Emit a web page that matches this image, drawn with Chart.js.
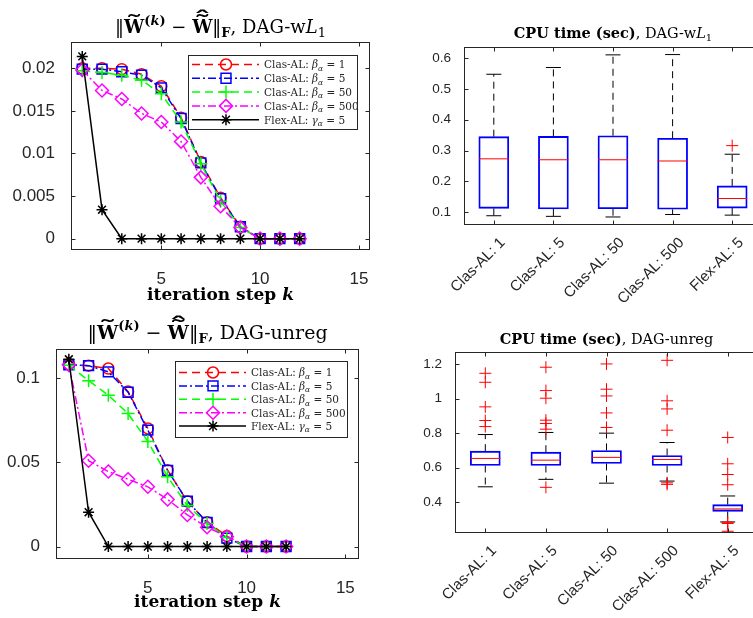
<!DOCTYPE html>
<html>
<head>
<meta charset="utf-8">
<script src="https://cdn.jsdelivr.net/npm/chart.js@4.4.1/dist/chart.umd.min.js"></script>
<style>
  html, body { margin: 0; padding: 0; background: #fff; }
  body { width: 753px; height: 618px; overflow: hidden; position: relative; }
  canvas { position: absolute; }
</style>
</head>
<body>
<canvas id="convWL1" width="380" height="310" style="left:0;top:0"></canvas>
<canvas id="cpuWL1" width="400" height="310" style="left:380px;top:0"></canvas>
<canvas id="convUnreg" width="380" height="308" style="left:0;top:310px"></canvas>
<canvas id="cpuUnreg" width="400" height="308" style="left:380px;top:310px"></canvas>
<script>
// iteration steps k
const iterSteps = [1, 2, 3, 4, 5, 6, 7, 8, 9, 10, 11, 12];
const kTicks = [5, 10, 15];

// ||W(k) - W||_F , DAG-wL1
const wl1Beta1   = [0.0200, 0.0200, 0.0199, 0.0193, 0.0179, 0.0142, 0.0090, 0.0048, 0.0014, 0, 0, 0];
const wl1Beta5   = [0.0199, 0.0199, 0.0196, 0.0192, 0.0177, 0.0141, 0.0089, 0.0047, 0.0014, 0, 0, 0];
const wl1Beta50  = [0.0197, 0.0195, 0.0192, 0.0186, 0.0170, 0.0137, 0.0088, 0.0044, 0.0013, 0, 0, 0];
const wl1Beta500 = [0.0198, 0.0174, 0.0164, 0.0147, 0.0137, 0.0114, 0.0072, 0.0038, 0.0013, 0, 0, 0];
const wl1Flex    = [0.0214, 0.0034, 0, 0, 0, 0, 0, 0, 0, 0, 0, 0];
const wl1YTicks  = [0, 0.005, 0.01, 0.015, 0.02];

// ||W(k) - W||_F , DAG-unreg
const unBeta1   = [0.1083, 0.1075, 0.1058, 0.0921, 0.0702, 0.0454, 0.0268, 0.0145, 0.0062, 0, 0, 0];
const unBeta5   = [0.1080, 0.1075, 0.1038, 0.0917, 0.0692, 0.0452, 0.0270, 0.0143, 0.0050, 0, 0, 0];
const unBeta50  = [0.1078, 0.0986, 0.0899, 0.0790, 0.0625, 0.0415, 0.0244, 0.0137, 0.0054, 0, 0, 0];
const unBeta500 = [0.1080, 0.0510, 0.0446, 0.0400, 0.0355, 0.0280, 0.0188, 0.0115, 0.0060, 0, 0, 0];
const unFlex    = [0.1113, 0.0204, 0, 0, 0, 0, 0, 0, 0, 0, 0, 0];
const unYTicks  = [0, 0.05, 0.1];

// legend entries
const seriesMethod = ['Clas-AL', 'Clas-AL', 'Clas-AL', 'Clas-AL', 'Flex-AL'];
const seriesParam  = ['\u03b2', '\u03b2', '\u03b2', '\u03b2', '\u03b3'];
const seriesValue  = ['1', '5', '50', '500', '5'];

// CPU time box plots
const boxLabels = ['Clas-AL: 1', 'Clas-AL: 5', 'Clas-AL: 50', 'Clas-AL: 500', 'Flex-AL: 5'];

const cpuWL1Min = [0.088, 0.086, 0.084, 0.092, 0.090];
const cpuWL1Q1  = [0.112, 0.110, 0.111, 0.109, 0.113];
const cpuWL1Med = [0.273, 0.270, 0.270, 0.266, 0.144];
const cpuWL1Q3  = [0.345, 0.346, 0.348, 0.340, 0.185];
const cpuWL1Max = [0.548, 0.570, 0.611, 0.612, 0.288];
const cpuWL1Out = [[], [], [], [], [0.316]];
const cpuWL1YTicks = [0.1, 0.2, 0.3, 0.4, 0.5, 0.6];

const cpuUnMin = [0.490, 0.533, 0.511, 0.523, 0.287];
const cpuUnQ1  = [0.613, 0.613, 0.625, 0.613, 0.348];
const cpuUnMed = [0.654, 0.644, 0.660, 0.648, 0.362];
const cpuUnQ3  = [0.696, 0.690, 0.700, 0.671, 0.387];
const cpuUnMax = [0.792, 0.804, 0.800, 0.746, 0.437];
const cpuUnOut = [
    [1.146, 1.094, 0.952, 0.873, 0.838],
    [1.181, 1.046, 1.002, 0.875, 0.856, 0.823, 0.487],
    [1.200, 1.054, 1.015, 0.917, 0.833],
    [1.221, 0.987, 0.940, 0.817, 0.513, 0.504],
    [0.775, 0.623, 0.561, 0.502, 0.285, 0.278, 0.233]
];
const cpuUnYTicks = [0.4, 0.6, 0.8, 1, 1.2];

//==

const SERIF = '"DejaVu Serif", "Liberation Serif", serif';
const SANS = '"Liberation Sans", Arial, sans-serif';
const AXIS_COLOR = '#262626';

function font(size, style) {
    return (style || 'normal') + ' ' + size + 'px ' + SERIF;
}

// draw a list of text runs (different fonts / raised or lowered) on one line,
// a run may carry accents (wide tilde, hat) stretched over its width
function drawRuns(ctx, runs, x, y, align) {
    const widths = runs.map(r => { ctx.font = r.font; return ctx.measureText(r.t).width; });
    const total = widths.reduce((a, b) => a + b, 0);
    let cx = align === 'left' ? x : x - total / 2;
    ctx.textAlign = 'left';
    ctx.textBaseline = 'alphabetic';
    runs.forEach((r, i) => {
        ctx.font = r.font;
        ctx.fillText(r.t, cx, y + (r.dy || 0));
        (r.accents || []).forEach(acc => {
            const aw = ctx.measureText(acc.t).width;
            ctx.save();
            ctx.translate(cx + widths[i] / 2, y + acc.dy);
            ctx.scale(widths[i] * acc.span / aw, 1);
            ctx.fillText(acc.t, -aw / 2, 0);
            ctx.restore();
        });
        cx += widths[i];
    });
}

function normTitle(s, tail) {
    const sm = Math.round(s * 0.7);
    return [
        { t: '\u2016', font: font(s) },
        { t: 'W', font: font(s, 'bold'), accents: [{ t: '\u02dc', dy: -s * 0.22, span: 0.85 }] },
        { t: '(', font: font(sm, 'bold'), dy: -s * 0.45 },
        { t: 'k', font: font(sm, 'italic bold'), dy: -s * 0.45 },
        { t: ')', font: font(sm, 'bold'), dy: -s * 0.45 },
        { t: ' \u2212 ', font: font(s) },
        { t: 'W', font: font(s, 'bold'), accents: [
            { t: '\u02dc', dy: -s * 0.22, span: 0.85 },
            { t: '\u02c6', dy: -s * 0.42, span: 0.85 }
        ] },
        { t: '\u2016', font: font(s) },
        { t: 'F', font: font(sm, 'bold'), dy: s * 0.22 },
        { t: ', DAG-', font: font(s) }
    ].concat(tail(s, sm));
}

function cpuTitle(s, tail) {
    return [
        { t: 'CPU time (sec)', font: font(s, 'bold') },
        { t: ', DAG-', font: font(s) }
    ].concat(tail(s, Math.round(s * 0.7)));
}

const tailWL1 = (s, sm) => [
    { t: 'w', font: font(s) },
    { t: 'L', font: font(s, 'italic') },
    { t: '1', font: font(sm), dy: s * 0.22 }
];
const tailUnreg = (s) => [{ t: 'unreg', font: font(s) }];

const xTitleRuns = [
    { t: 'iteration step ', font: font(17, 'bold') },
    { t: 'k', font: font(17, 'italic bold') }
];

// boxed axes with inward ticks, plus titles
function matlabFrame(cfg) {
    return {
        id: 'matlabFrame',
        afterDraw(chart) {
            const { ctx, chartArea: a, scales } = chart;
            const L = Math.round(a.left) + 0.5, R = Math.round(a.right) - 0.5;
            const T = Math.round(a.top) + 0.5, B = Math.round(a.bottom) - 0.5;
            const tl = 4;
            ctx.save();
            ctx.strokeStyle = AXIS_COLOR;
            ctx.lineWidth = 1;
            ctx.strokeRect(L, T, R - L, B - T);
            ctx.beginPath();
            scales.x.ticks.forEach(t => {
                const px = Math.round(scales.x.getPixelForValue(t.value)) + 0.5;
                ctx.moveTo(px, B); ctx.lineTo(px, B - tl);
                ctx.moveTo(px, T); ctx.lineTo(px, T + tl);
            });
            scales.y.ticks.forEach(t => {
                const py = Math.round(scales.y.getPixelForValue(t.value)) + 0.5;
                ctx.moveTo(L, py); ctx.lineTo(L + tl, py);
                ctx.moveTo(R, py); ctx.lineTo(R - tl, py);
            });
            ctx.stroke();
            ctx.fillStyle = '#000';
            const cx = (a.left + a.right) / 2;
            drawRuns(ctx, cfg.title, cx, cfg.titleY);
            if (cfg.xTitle) drawRuns(ctx, cfg.xTitle, cx, cfg.xTitleY);
            ctx.restore();
        }
    };
}

// MATLAB style legend: line sample with the marker in its middle
function lineLegend(cfg) {
    return {
        id: 'lineLegend',
        afterDatasetsDraw(chart) {
            const { ctx, chartArea: a } = chart;
            const x0 = Math.round(a.right - cfg.right - cfg.width);
            const y0 = Math.round(a.top + cfg.top);
            ctx.save();
            ctx.fillStyle = '#fff';
            ctx.fillRect(x0, y0, cfg.width, cfg.height);
            ctx.strokeStyle = AXIS_COLOR;
            ctx.lineWidth = 1;
            ctx.strokeRect(x0 + 0.5, y0 + 0.5, cfg.width, cfg.height);
            chart.data.datasets.forEach((ds, i) => {
                const y = y0 + cfg.first + i * cfg.gap;
                ctx.save();
                ctx.strokeStyle = ds.borderColor;
                ctx.lineWidth = ds.borderWidth;
                ctx.setLineDash(ds.borderDash);
                ctx.beginPath();
                ctx.moveTo(x0 + 4, y);
                ctx.lineTo(x0 + 71, y);
                ctx.stroke();
                ctx.setLineDash([]);
                ctx.fillStyle = 'rgba(0,0,0,0)';
                ctx.lineWidth = ds.pointBorderWidth;
                Chart.helpers.drawPoint(ctx, {
                    pointStyle: ds.pointStyle, radius: ds.pointRadius,
                    borderWidth: ds.pointBorderWidth, rotation: 0
                }, x0 + 38, y);
                ctx.restore();
                ctx.fillStyle = AXIS_COLOR;
                drawRuns(ctx, [
                    { t: seriesMethod[i] + ': ', font: font(10.5) },
                    { t: seriesParam[i], font: font(10.5, 'italic') },
                    { t: '\u03b1', font: font(7.5, 'italic'), dy: 2.5 },
                    { t: ' = ' + seriesValue[i], font: font(10.5) }
                ], x0 + 76, y + 3.8, 'left');
            });
            ctx.restore();
        }
    };
}

const seriesStyle = [
    { color: '#FF0000', dash: [8, 5], point: 'circle', radius: 5.5 },
    { color: '#0000FF', dash: [8, 3, 2, 3], point: 'rect', radius: 7 },
    { color: '#00FF00', dash: [8, 5], point: 'cross', radius: 6.5 },
    { color: '#FF00FF', dash: [8, 3, 2, 3], point: 'rectRot', radius: 6.5 },
    { color: '#000000', dash: [], point: 'star', radius: 5.5 }
];

function convChart(id, series, yTicks, area, title, xTitleY, legendPos) {
    const canvas = document.getElementById(id);
    new Chart(canvas, {
        type: 'line',
        data: {
            labels: iterSteps,
            datasets: series.map((values, i) => ({
                label: seriesMethod[i] + ': ' + seriesParam[i] + '_\u03b1 = ' + seriesValue[i],
                data: values,
                borderColor: seriesStyle[i].color,
                borderWidth: 1.5,
                borderDash: seriesStyle[i].dash,
                pointStyle: seriesStyle[i].point,
                pointRadius: seriesStyle[i].radius,
                pointBorderColor: seriesStyle[i].color,
                pointBackgroundColor: 'rgba(0,0,0,0)',
                pointBorderWidth: 1.5,
                tension: 0,
                fill: false,
                order: series.length - 1 - i
            }))
        },
        options: {
            responsive: false,
            animation: false,
            events: [],
            layout: { padding: { left: 0, top: area.top, right: canvas.width - area.right, bottom: 0 } },
            plugins: { legend: { display: false }, tooltip: { enabled: false } },
            scales: {
                x: {
                    type: 'linear',
                    min: area.xMin,
                    max: area.xMax,
                    grid: { display: false },
                    border: { display: false },
                    afterBuildTicks: s => { s.ticks = kTicks.map(v => ({ value: v })); },
                    afterFit: s => { s.height = canvas.height - area.bottom; },
                    ticks: { color: AXIS_COLOR, padding: 11, font: { family: SANS, size: 17 }, callback: v => String(v) }
                },
                y: {
                    min: area.yMin,
                    max: area.yMax,
                    grid: { display: false },
                    border: { display: false },
                    afterBuildTicks: s => { s.ticks = yTicks.map(v => ({ value: v })); },
                    afterFit: s => { s.width = area.left; },
                    ticks: { color: AXIS_COLOR, padding: 8, font: { family: SANS, size: 17 }, callback: v => String(v) }
                }
            }
        },
        plugins: [
            lineLegend(legendPos),
            matlabFrame({ title: title, titleY: area.titleY, xTitle: xTitleRuns, xTitleY: xTitleY })
        ]
    });
}

function boxChart(id, stats, yTicks, area, title) {
    const canvas = document.getElementById(id);
    const pos = boxLabels.map((_, i) => i + 1);
    const whiskers = [];
    pos.forEach((x, i) => {
        whiskers.push({ x: x, y: stats.q3[i] }, { x: x, y: stats.max[i] }, { x: x, y: null });
        whiskers.push({ x: x, y: stats.q1[i] }, { x: x, y: stats.min[i] }, { x: x, y: null });
    });
    const caps = pos.flatMap((x, i) => [{ x: x, y: stats.max[i] }, { x: x, y: stats.min[i] }]);
    const boxes = pos.map((x, i) => ({ x: x, y: [stats.q1[i], stats.q3[i]] }));
    const medians = pos.map((x, i) => ({ x: x, y: stats.med[i] }));
    const outliers = stats.out.flatMap((arr, i) => arr.map(v => ({ x: i + 1, y: v })));

    new Chart(canvas, {
        type: 'bar',
        data: {
            datasets: [
                { type: 'line', data: whiskers, borderColor: '#000', borderWidth: 1, borderDash: [7, 5],
                  pointRadius: 0, spanGaps: false, order: 4 },
                { type: 'scatter', data: caps, pointStyle: 'line', pointRadius: 7.5,
                  borderColor: '#000', pointBorderColor: '#000', pointBorderWidth: 1, order: 3 },
                { type: 'bar', data: boxes, borderColor: '#0000FF', borderWidth: 1.2,
                  backgroundColor: 'rgba(0,0,0,0)', borderSkipped: false, barThickness: 30, order: 2 },
                { type: 'scatter', data: medians, pointStyle: 'line', pointRadius: 15,
                  borderColor: '#FF0000', pointBorderColor: '#FF0000', pointBorderWidth: 1, order: 1 },
                { type: 'scatter', data: outliers, pointStyle: 'cross', pointRadius: 6,
                  borderColor: '#FF0000', pointBorderColor: '#FF0000', pointBorderWidth: 1, order: 0 }
            ]
        },
        options: {
            responsive: false,
            animation: false,
            events: [],
            layout: { padding: { left: 0, top: area.top, right: canvas.width - area.right, bottom: 0 } },
            plugins: { legend: { display: false }, tooltip: { enabled: false } },
            scales: {
                x: {
                    type: 'linear',
                    min: 0.5,
                    max: 5.5,
                    offset: false,
                    grid: { display: false },
                    border: { display: false },
                    afterBuildTicks: s => { s.ticks = pos.map(v => ({ value: v })); },
                    afterFit: s => { s.height = canvas.height - area.bottom; },
                    ticks: {
                        color: AXIS_COLOR, padding: 1, autoSkip: false,
                        minRotation: 45, maxRotation: 45, labelOffset: 9,
                        font: { family: SANS, size: 15 },
                        callback: v => boxLabels[v - 1]
                    }
                },
                y: {
                    type: 'linear',
                    min: area.yMin,
                    max: area.yMax,
                    beginAtZero: false,
                    grid: { display: false },
                    border: { display: false },
                    afterBuildTicks: s => { s.ticks = yTicks.map(v => ({ value: v })); },
                    afterFit: s => { s.width = area.left; },
                    ticks: { color: AXIS_COLOR, padding: 5, font: { family: SANS, size: 13.5 }, callback: v => String(v) }
                }
            }
        },
        plugins: [matlabFrame({ title: title, titleY: area.titleY })]
    });
}

convChart('convWL1', [wl1Beta1, wl1Beta5, wl1Beta50, wl1Beta500, wl1Flex], wl1YTicks,
    { left: 71, right: 370, top: 42, bottom: 250, xMin: 0.43, xMax: 15.56, yMin: -0.00133, yMax: 0.02309, titleY: 33 },
    normTitle(18, tailWL1), 300,
    { width: 169, height: 74, right: 13, top: 13, first: 9.5, gap: 13.8 });

convChart('convUnreg', [unBeta1, unBeta5, unBeta50, unBeta500, unFlex], unYTicks,
    { left: 56, right: 359, top: 39, bottom: 249, xMin: 0.35, xMax: 15.69, yMin: -0.0074, yMax: 0.1174, titleY: 28.5 },
    normTitle(19, tailUnreg), 297,
    { width: 172, height: 76, right: 12.5, top: 12, first: 11.5, gap: 13.4 });

boxChart('cpuWL1', { min: cpuWL1Min, q1: cpuWL1Q1, med: cpuWL1Med, q3: cpuWL1Q3, max: cpuWL1Max, out: cpuWL1Out },
    cpuWL1YTicks, { left: 84, right: 382, top: 47, bottom: 225, yMin: 0.0579, yMax: 0.6366, titleY: 37.5 },
    cpuTitle(14.5, tailWL1));

boxChart('cpuUnreg', { min: cpuUnMin, q1: cpuUnQ1, med: cpuUnMed, q3: cpuUnQ3, max: cpuUnMax, out: cpuUnOut },
    cpuUnYTicks, { left: 75, right: 378, top: 42, bottom: 223, yMin: 0.223, yMax: 1.269, titleY: 34 },
    cpuTitle(14.5, tailUnreg));
</script>
</body>
</html>
